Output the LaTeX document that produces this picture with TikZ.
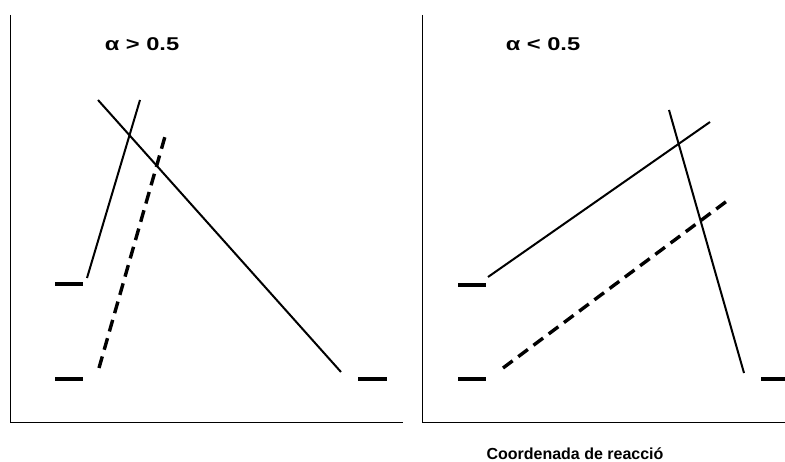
\documentclass[tikz,border=0pt]{standalone}
\usepackage{fontspec}
\setmainfont{Liberation Sans}
\usepackage{tikz}
\usetikzlibrary{calc}
\tikzset{
  % Axes: thin solid lines
  axisline/.style={line width=0.8pt},
  % Energy levels of reactants / products: short heavy bars
  level/.style={line width=3.2pt},
  % Curves crossing: solid and dashed
  curve/.style={line width=2pt},
  curve-dash/.style={line width=3.4pt, dash pattern=on 12pt off 7pt},
  % Labels
  alphalab/.style={font=\bfseries\fontsize{18.5}{22}\selectfont, inner sep=0pt, anchor=base},
  axislab/.style={font=\bfseries\fontsize{16}{18}\selectfont, inner sep=0pt, anchor=base}
}

\begin{document}
\begin{tikzpicture}[x=1pt, y=-1pt]
\useasboundingbox (0,0) rectangle (785,462);

% ============== LEFT PANEL: alpha > 0.5 ==============
\coordinate (lorig) at (10,422);
\coordinate (ltop) at (10,15);
\coordinate (lend) at (403,422);
\draw[axisline] (ltop) -- (lorig) -- (lend);

\node[alphalab] (lalpha) at (142,51) {\scalebox{1.28}[1]{α > 0.5}};

\coordinate (lr1a) at (55,284);  \coordinate (lr1b) at (83,284);
\coordinate (lr2a) at (55,379);  \coordinate (lr2b) at (83,379);
\coordinate (lpa)  at (358,379); \coordinate (lpb)  at (387,379);
\draw[level] (lr1a) -- (lr1b);
\draw[level] (lr2a) -- (lr2b);
\draw[level] (lpa) -- (lpb);

\coordinate (ls1) at (87,278);  \coordinate (ls2) at (140,100);
\coordinate (ll1) at (98,100);  \coordinate (ll2) at (341,372);
\coordinate (ld1) at (99,368);  \coordinate (ld2) at (166,133);
\draw[curve] (ls1) -- (ls2);
\draw[curve] (ll1) -- (ll2);
\draw[curve-dash] (ld1) -- (ld2);

% ============== RIGHT PANEL: alpha < 0.5 ==============
\coordinate (rorig) at (422,422);
\coordinate (rtop) at (422,15);
\coordinate (rend) at (785,422);
\draw[axisline] (rtop) -- (rorig) -- (rend);

\node[alphalab] (ralpha) at (543,51) {\scalebox{1.28}[1]{α < 0.5}};

\coordinate (rr1a) at (458,285); \coordinate (rr1b) at (486,285);
\coordinate (rr2a) at (458,379); \coordinate (rr2b) at (486,379);
\coordinate (rpa)  at (761,379); \coordinate (rpb)  at (785,379);
\draw[level] (rr1a) -- (rr1b);
\draw[level] (rr2a) -- (rr2b);
\draw[level] (rpa) -- (rpb);

\coordinate (rs1) at (488,277); \coordinate (rs2) at (710,122);
\coordinate (rl1) at (669,110); \coordinate (rl2) at (744,373);
\coordinate (rd1) at (503,368); \coordinate (rd2) at (731,198);
\draw[curve] (rs1) -- (rs2);
\draw[curve] (rl1) -- (rl2);
\draw[curve-dash] (rd1) -- (rd2);

\node[axislab] (xlab) at (575,460) {Coordenada de reacció};

\end{tikzpicture}
\end{document}
